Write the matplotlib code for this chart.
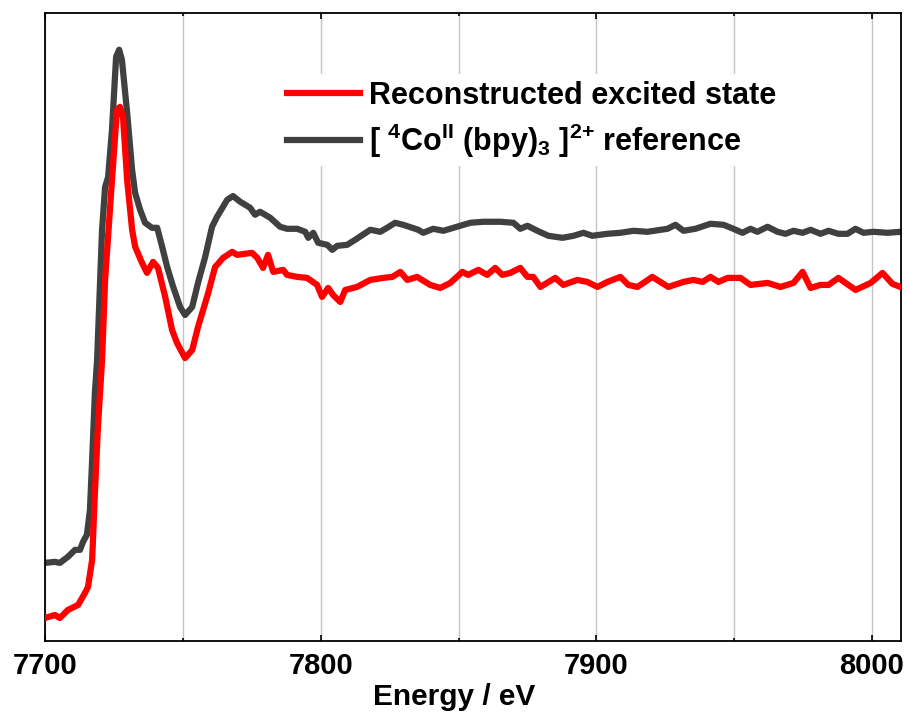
import matplotlib
matplotlib.use("Agg")
import matplotlib.pyplot as plt
from matplotlib.ticker import MultipleLocator

# ─────────────────────────────────────────────
# ДАНІ (енергія, eV / нормована абсорбція)
# ─────────────────────────────────────────────

red_energy = [
    7700.0, 7703.6, 7705.4, 7708.3, 7712.0, 7714.5, 7715.6, 7717.1, 7718.1, 7719.2,
    7720.7, 7721.8, 7724.3, 7726.1, 7727.2, 7728.3, 7729.8, 7731.6, 7732.7, 7735.2,
    7737.0, 7739.2, 7741.0, 7743.6, 7746.1, 7747.9, 7750.8, 7753.4, 7755.5, 7759.2,
    7761.7, 7762.4, 7764.6, 7767.9, 7769.7, 7775.1, 7777.0, 7779.1, 7780.9, 7782.8,
    7786.4, 7787.8, 7791.5, 7795.1, 7798.7, 7800.5, 7802.7, 7804.5, 7807.1, 7808.9,
    7813.2, 7818.0, 7822.7, 7826.0, 7828.9, 7831.4, 7835.0, 7839.7, 7843.4, 7847.0,
    7851.4, 7853.5, 7857.2, 7860.4, 7863.3, 7865.9, 7868.8, 7872.4, 7875.0, 7877.1,
    7879.7, 7885.1, 7888.0, 7893.1, 7896.7, 7900.4, 7904.0, 7908.7, 7911.6, 7914.9,
    7920.3, 7926.1, 7931.6, 7935.2, 7938.5, 7941.4, 7944.3, 7947.6, 7952.3, 7955.9,
    7962.1, 7966.8, 7971.5, 7974.8, 7977.7, 7981.3, 7984.2, 7987.8, 7994.0, 7999.5,
    8003.8, 8007.4, 8010.3,
]
red_mu = [
    -0.003, 0.006, -0.003, 0.021, 0.036, 0.072, 0.090, 0.171, 0.371, 0.569,
    0.769, 1.009, 1.308, 1.518, 1.527, 1.497, 1.308, 1.159, 1.108, 1.060,
    1.030, 1.063, 1.045, 0.958, 0.859, 0.820, 0.775, 0.799, 0.868, 0.970,
    1.048, 1.054, 1.075, 1.093, 1.084, 1.090, 1.075, 1.045, 1.084, 1.033,
    1.039, 1.024, 1.018, 1.015, 0.994, 0.958, 0.985, 0.964, 0.943, 0.979,
    0.988, 1.009, 1.015, 1.018, 1.033, 1.009, 1.018, 0.994, 0.985, 1.000,
    1.033, 1.024, 1.039, 1.024, 1.045, 1.024, 1.030, 1.045, 1.018, 1.018,
    0.988, 1.015, 0.994, 1.009, 1.003, 0.988, 1.003, 1.018, 0.994, 0.988,
    1.018, 0.988, 1.003, 1.009, 1.003, 1.018, 1.003, 1.015, 1.015, 0.994,
    1.000, 0.988, 1.000, 1.033, 0.985, 0.994, 0.994, 1.015, 0.979, 1.000,
    1.030, 0.997, 0.988,
]

gray_energy = [
    7700.0, 7703.6, 7705.4, 7708.3, 7710.9, 7712.7, 7713.8, 7715.2, 7716.3, 7717.1,
    7718.1, 7718.9, 7720.7, 7721.8, 7722.9, 7724.3, 7725.8, 7726.9, 7727.9, 7729.8,
    7731.6, 7732.7, 7734.5, 7736.3, 7738.8, 7740.7, 7742.5, 7744.3, 7746.5, 7749.0,
    7750.8, 7753.4, 7755.5, 7758.1, 7760.6, 7762.4, 7763.5, 7766.1, 7768.2, 7770.8,
    7774.4, 7776.2, 7778.0, 7781.7, 7785.3, 7787.8, 7791.5, 7794.4, 7795.5, 7797.3,
    7799.1, 7802.4, 7804.2, 7806.0, 7809.6, 7812.5, 7818.0, 7821.6, 7824.1, 7827.0,
    7829.9, 7835.4, 7837.2, 7840.8, 7844.5, 7850.6, 7854.3, 7859.0, 7865.2, 7869.9,
    7872.4, 7875.0, 7878.6, 7882.6, 7887.7, 7891.7, 7895.3, 7898.5, 7904.0, 7908.7,
    7913.4, 7918.5, 7925.8, 7928.7, 7931.6, 7935.9, 7941.4, 7946.1, 7949.7, 7953.0,
    7955.9, 7958.4, 7962.1, 7965.7, 7968.6, 7971.5, 7974.8, 7977.7, 7981.3, 7984.2,
    7987.8, 7991.1, 7994.0, 7996.9, 8000.5, 8005.6, 8010.3,
]
gray_mu = [
    0.162, 0.165, 0.162, 0.180, 0.201, 0.201, 0.225, 0.246, 0.320, 0.470,
    0.671, 0.769, 1.159, 1.287, 1.317, 1.458, 1.677, 1.698, 1.668, 1.509,
    1.338, 1.269, 1.219, 1.180, 1.165, 1.165, 1.108, 1.048, 0.988, 0.928,
    0.904, 0.928, 1.000, 1.078, 1.168, 1.198, 1.213, 1.249, 1.260, 1.243,
    1.225, 1.204, 1.213, 1.195, 1.168, 1.162, 1.162, 1.153, 1.135, 1.150,
    1.120, 1.114, 1.099, 1.111, 1.114, 1.129, 1.159, 1.153, 1.165, 1.180,
    1.174, 1.159, 1.150, 1.162, 1.156, 1.171, 1.180, 1.183, 1.183, 1.180,
    1.162, 1.171, 1.156, 1.141, 1.135, 1.141, 1.150, 1.141, 1.147, 1.150,
    1.156, 1.153, 1.162, 1.174, 1.156, 1.162, 1.177, 1.174, 1.162, 1.150,
    1.162, 1.153, 1.168, 1.153, 1.147, 1.156, 1.150, 1.159, 1.147, 1.156,
    1.147, 1.147, 1.162, 1.150, 1.153, 1.150, 1.153,
]

red_label = "Reconstructed excited state"
gray_label = r"[ $^{4}$Co$^{II}$ (bpy)$_{3}$ ]$^{2{+}}$ reference"

RED = "#ff0000"
GRAY = "#404040"

# ─────────────────────────────────────────────
# ШРИФТИ
# ─────────────────────────────────────────────

plt.rcParams["font.family"] = ["Liberation Sans", "DejaVu Sans"]
plt.rcParams["font.weight"] = "bold"
plt.rcParams["mathtext.fontset"] = "custom"
plt.rcParams["mathtext.rm"] = "Liberation Sans:bold"
plt.rcParams["mathtext.bf"] = "Liberation Sans:bold"
plt.rcParams["mathtext.it"] = "Liberation Sans:bold"
plt.rcParams["mathtext.default"] = "rm"

# ─────────────────────────────────────────────
# ГРАФІК
# ─────────────────────────────────────────────

fig = plt.figure(figsize=(9.09, 7.17), dpi=100)
ax = fig.add_axes([0.0495, 0.1064, 0.9417, 0.8755])

ax.plot(red_energy, red_mu, color=RED, lw=4.5, label=red_label,
        solid_joinstyle="round", zorder=3)
ax.plot(gray_energy, gray_mu, color=GRAY, lw=4.5, label=gray_label,
        solid_joinstyle="round", zorder=2)

ax.set_xlim(7700, 8010.5)
ax.set_ylim(-0.071, 1.808)

ax.xaxis.set_major_locator(MultipleLocator(100))
ax.xaxis.set_minor_locator(MultipleLocator(50))
ax.set_yticks([])
ax.grid(True, which="both", axis="x", color="#c4c4c4", lw=1.0, zorder=0)
ax.set_axisbelow(True)

ax.tick_params(axis="x", which="both", direction="in", top=True, bottom=True,
               labelsize=21, pad=8, width=1.2)
ax.tick_params(axis="x", which="major", length=4)
ax.tick_params(axis="x", which="minor", length=2)
for lab in ax.get_xticklabels():
    lab.set_fontweight("bold")

for spine in ax.spines.values():
    spine.set_linewidth(1.3)
    spine.set_color("black")

ax.set_xlabel("Energy / eV", fontsize=21.5, fontweight="bold", labelpad=0)
ax.xaxis.set_label_coords(0.478, -0.068)

leg = ax.legend(loc="upper left", bbox_to_anchor=(0.275, 0.902),
                fontsize=22, frameon=True, fancybox=False,
                handlelength=2.4, handletextpad=0.3, labelspacing=0.35,
                borderpad=0.2, borderaxespad=0)
leg.get_frame().set_facecolor("white")
leg.get_frame().set_edgecolor("none")
leg.get_frame().set_alpha(1.0)
for line in leg.get_lines():
    line.set_linewidth(4.5)

fig.savefig("out.png", dpi=100)
